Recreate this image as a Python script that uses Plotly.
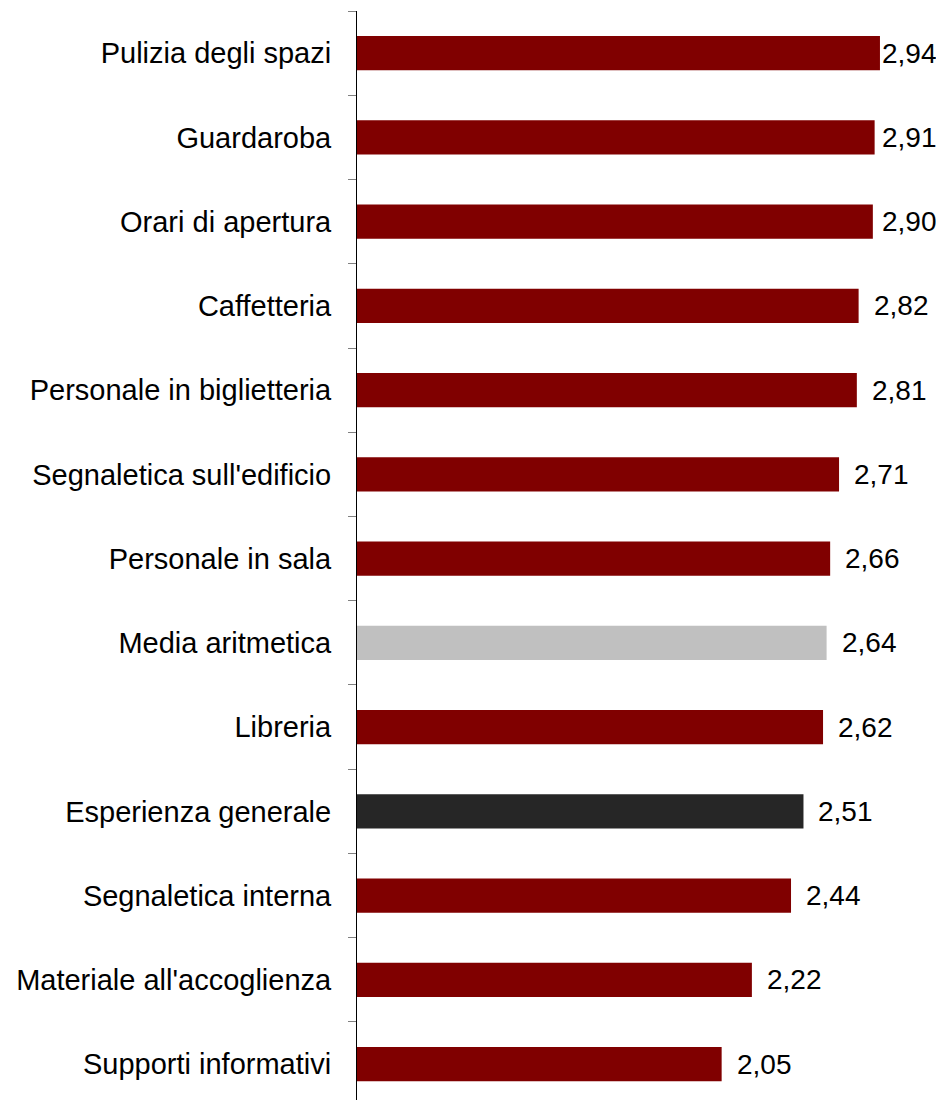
import plotly.graph_objects as go

# data, top to bottom
CATEGORIES = [
    "Pulizia degli spazi", "Guardaroba", "Orari di apertura", "Caffetteria",
    "Personale in biglietteria", "Segnaletica sull'edificio", "Personale in sala",
    "Media aritmetica", "Libreria", "Esperienza generale", "Segnaletica interna",
    "Materiale all'accoglienza", "Supporti informativi",
]
VALUES = [2.94, 2.91, 2.90, 2.82, 2.81, 2.71, 2.66, 2.64, 2.62, 2.51, 2.44, 2.22, 2.05]

DARK_RED = "#800000"
GREY = "#c0c0c0"
CHARCOAL = "#262626"
SPECIAL = {"Media aritmetica": GREY, "Esperienza generale": CHARCOAL}
colors = [SPECIAL.get(c, DARK_RED) for c in CATEGORIES]

FONT = "Arial, 'Liberation Sans', sans-serif"
X_MAX = 3.3
LABEL_PAD = 0.073    # ~15 px gap after the bar end
LABEL_CAP = 2.94     # labels near the right edge are pushed back in

fig = go.Figure(go.Bar(
    x=VALUES, y=CATEGORIES, orientation="h",
    marker=dict(color=colors, line=dict(width=0)),
    width=0.405,
    hoverinfo="x+y",
))

for cat, val in zip(CATEGORIES, VALUES):
    fig.add_annotation(
        x=min(val + LABEL_PAD, LABEL_CAP), y=cat,
        text=f"{val:.2f}".replace(".", ","),
        showarrow=False, xanchor="left", yanchor="middle",
        font=dict(family=FONT, size=28, color="#000000"),
    )

# page body has an 8px margin, so the figure is trimmed to fit the window
fig.update_layout(
    width=936, height=1092,
    paper_bgcolor="#ffffff", plot_bgcolor="#ffffff",
    margin=dict(l=349, r=0, t=3, b=0),
    showlegend=False,
    font=dict(family=FONT, size=29, color="#000000"),
    xaxis=dict(range=[0, X_MAX], visible=False, fixedrange=True),
    yaxis=dict(
        type="category",
        range=[12.426, -0.5],
        showline=True, linecolor="#000000", linewidth=1,
        showgrid=False, zeroline=False,
        ticks="outside", tickson="boundaries", ticklen=8,
        tickcolor="#808080", tickwidth=1,
        ticklabelstandoff=19,
        tickfont=dict(family=FONT, size=29, color="#000000"),
    ),
)

fig.write_html("out.html")
